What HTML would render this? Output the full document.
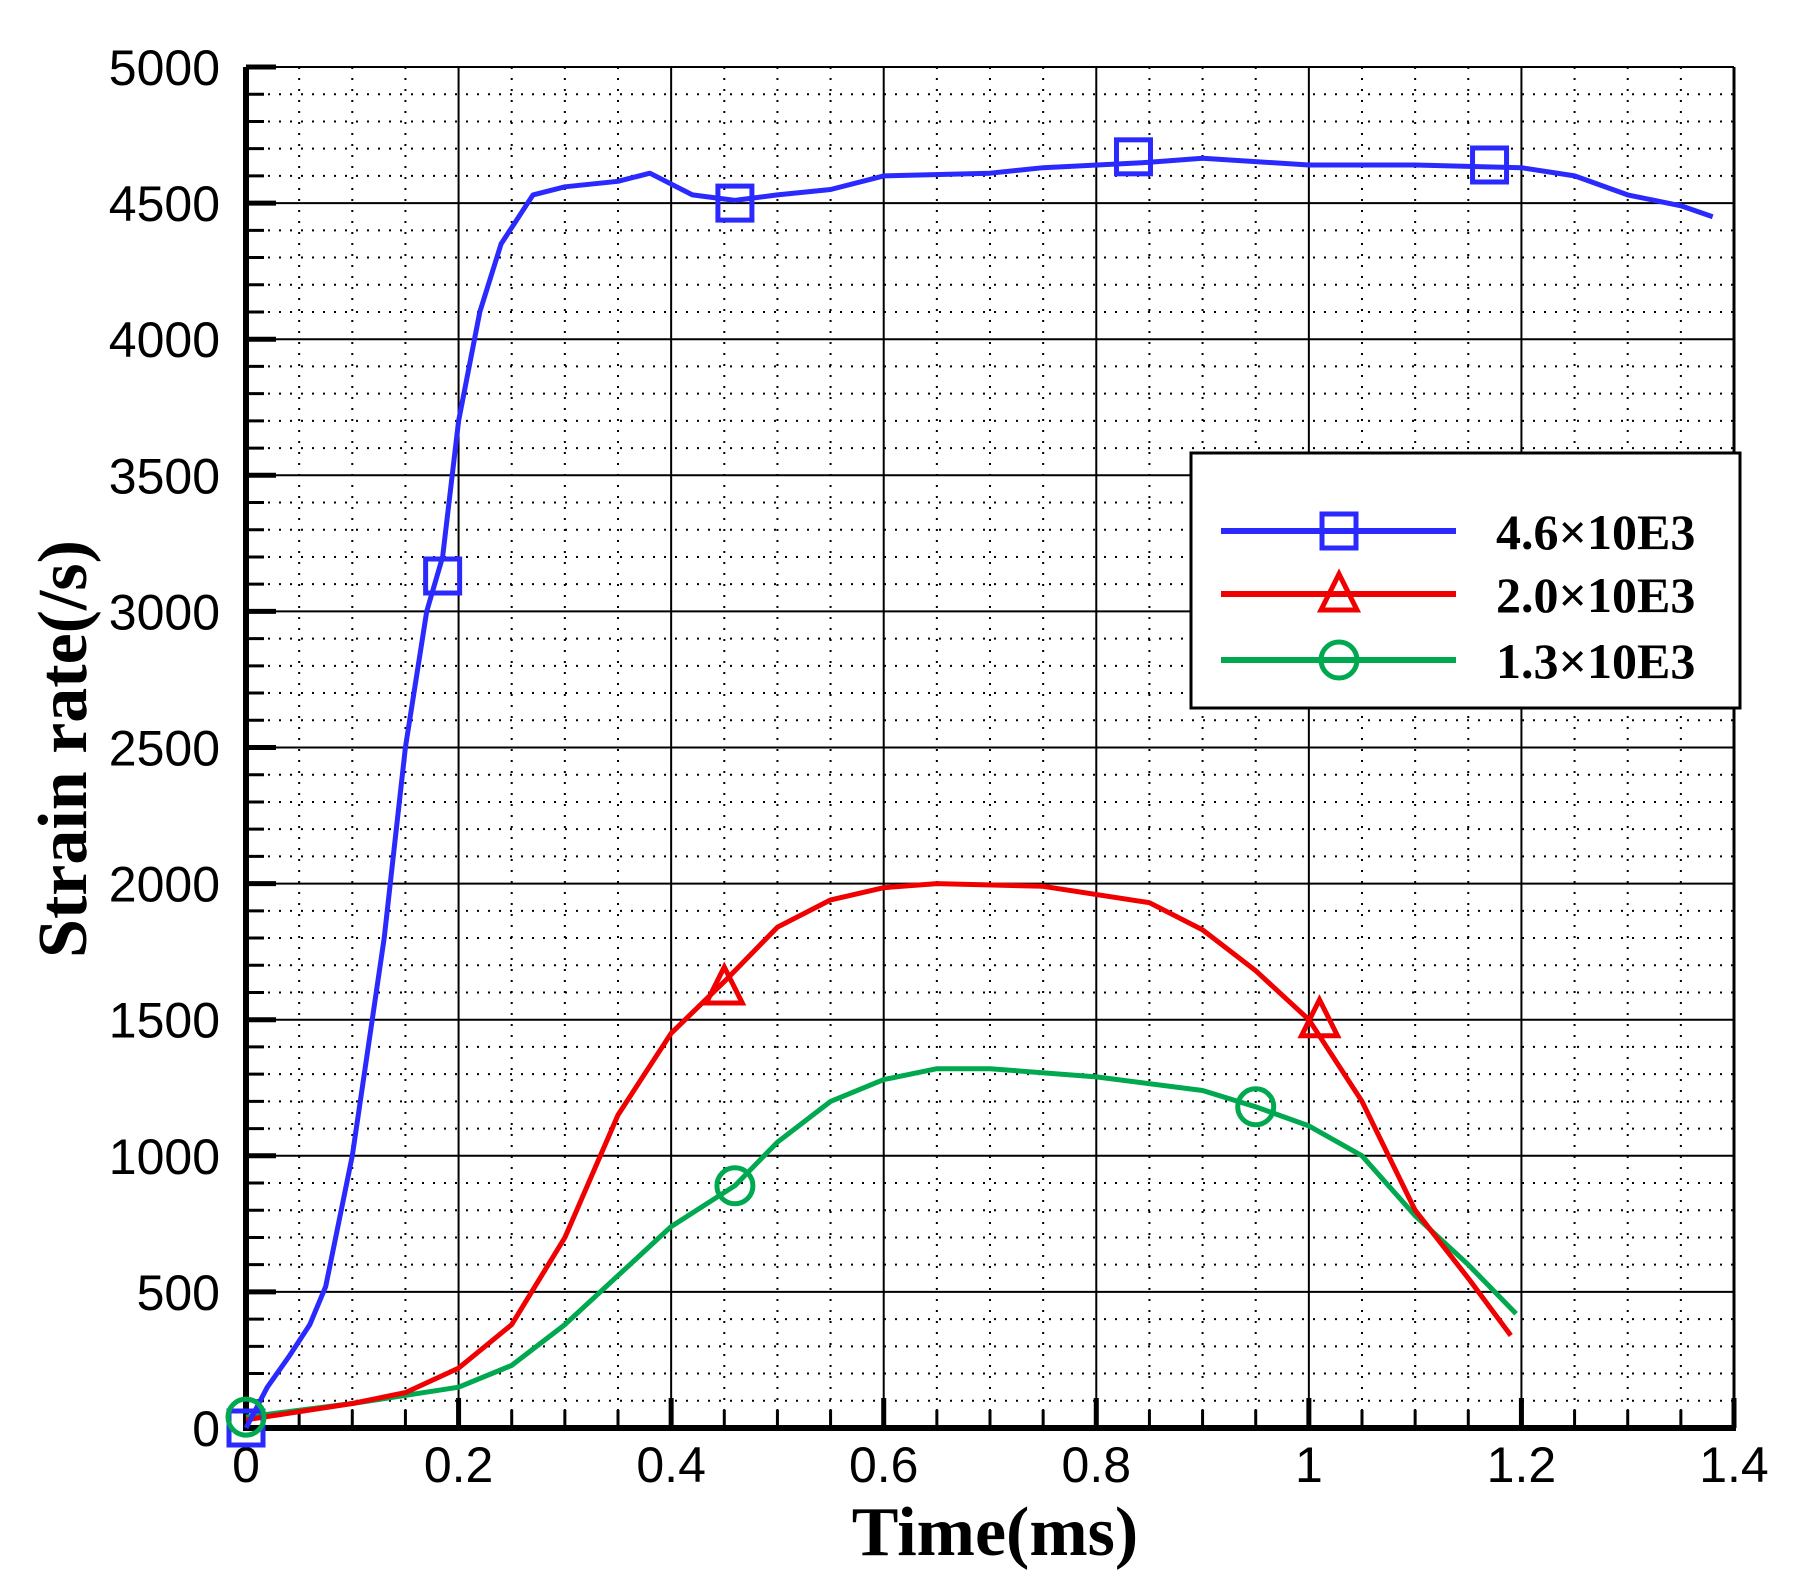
<!DOCTYPE html>
<html><head><meta charset="utf-8"><style>
html,body{margin:0;padding:0;background:#fff;}
svg{display:block}
</style></head><body>
<svg id="s" width="1800" height="1588" xmlns="http://www.w3.org/2000/svg"></svg>
<script>
const L=246,R=1734,T=67,B=1428;
const X=t=>L+t/1.4*(R-L), Y=v=>B-v/5000*(B-T);
let h='';
for(let i=1;i<28;i++){if(i%4==0)continue;const x=X(i*0.05);h+=`<line x1="${x}" y1="${T}" x2="${x}" y2="${B}" stroke="#000" stroke-width="2" stroke-dasharray="2,9"/>`;}
for(let i=1;i<50;i++){if(i%5==0)continue;const y=Y(i*100);h+=`<line x1="${L}" y1="${y}" x2="${R}" y2="${y}" stroke="#000" stroke-width="2" stroke-dasharray="2,9"/>`;}
for(let i=1;i<7;i++){const x=X(i*0.2);h+=`<line x1="${x}" y1="${T}" x2="${x}" y2="${B}" stroke="#000" stroke-width="2"/>`;}
for(let i=1;i<10;i++){const y=Y(i*500);h+=`<line x1="${L}" y1="${y}" x2="${R}" y2="${y}" stroke="#000" stroke-width="2"/>`;}
h+=`<line x1="${L}" y1="${T}" x2="${R}" y2="${T}" stroke="#000" stroke-width="2"/>`;
h+=`<line x1="${R}" y1="${T}" x2="${R}" y2="${B}" stroke="#000" stroke-width="3"/>`;
h+=`<line x1="${L}" y1="${T}" x2="${L}" y2="${B+3}" stroke="#000" stroke-width="6"/>`;
h+=`<line x1="${L-3}" y1="${B}" x2="${R+2}" y2="${B}" stroke="#000" stroke-width="6"/>`;
for(let i=0;i<=50;i++){const y=Y(i*100);const maj=i%5==0;h+=`<line x1="${L}" y1="${y}" x2="${L+(maj?30:18)}" y2="${y}" stroke="#000" stroke-width="${maj?5:3}"/>`;}
for(let i=0;i<=28;i++){const x=X(i*0.05);const maj=i%4==0;h+=`<line x1="${x}" y1="${B}" x2="${x}" y2="${B-(maj?30:18)}" stroke="#000" stroke-width="${maj?5:3}"/>`;}
for(let i=0;i<=10;i++){h+=`<text x="220" y="${Y(i*500)+18}" text-anchor="end" font-family="Liberation Sans, sans-serif" font-size="50">${i*500}</text>`;}
const xl=['0','0.2','0.4','0.6','0.8','1','1.2','1.4'];
xl.forEach((s,i)=>{h+=`<text x="${X(i*0.2)}" y="1482" text-anchor="middle" font-family="Liberation Sans, sans-serif" font-size="50">${s}</text>`;});
h+=`<text x="995" y="1555" text-anchor="middle" font-family="Liberation Serif, serif" font-weight="bold" font-size="70">Time(ms)</text>`;
h+=`<text transform="translate(86,749) rotate(-90)" text-anchor="middle" font-family="Liberation Serif, serif" font-weight="bold" font-size="70">Strain rate(/s)</text>`;
const blue=[[0,0],[0.02,150],[0.04,260],[0.06,380],[0.075,520],[0.1,1000],[0.13,1800],[0.15,2500],[0.17,3000],[0.185,3200],[0.2,3700],[0.22,4100],[0.24,4350],[0.27,4530],[0.3,4560],[0.35,4580],[0.38,4610],[0.42,4530],[0.46,4510],[0.5,4530],[0.55,4550],[0.6,4600],[0.7,4610],[0.75,4630],[0.85,4650],[0.9,4665],[1.0,4640],[1.1,4640],[1.2,4630],[1.25,4600],[1.3,4530],[1.35,4490],[1.38,4450]];
const red=[[0,30],[0.1,90],[0.15,130],[0.2,220],[0.25,380],[0.3,700],[0.35,1150],[0.4,1450],[0.45,1640],[0.5,1840],[0.55,1940],[0.6,1985],[0.65,2000],[0.75,1990],[0.85,1930],[0.9,1830],[0.95,1680],[1.0,1500],[1.05,1200],[1.1,800],[1.15,550],[1.19,340]];
const green=[[0,40],[0.1,90],[0.2,150],[0.25,230],[0.3,380],[0.35,560],[0.4,740],[0.46,890],[0.5,1050],[0.55,1200],[0.6,1280],[0.65,1320],[0.7,1320],[0.8,1290],[0.9,1240],[0.95,1180],[1.0,1110],[1.05,1000],[1.1,780],[1.15,600],[1.195,420]];
function path(d,c){return `<polyline fill="none" stroke="${c}" stroke-width="5" stroke-linejoin="round" points="${d.map(p=>X(p[0]).toFixed(1)+','+Y(p[1]).toFixed(1)).join(' ')}"/>`;}
h+=path(green,'#00a84f')+path(red,'#f00000')+path(blue,'#2a2aff');
const sq=(x,y,c)=>`<rect x="${x-17}" y="${y-17}" width="34" height="34" fill="none" stroke="${c}" stroke-width="5"/>`;
const tri=(x,y,c)=>`<polygon points="${x},${y-20} ${x-18},${y+16} ${x+18},${y+16}" fill="none" stroke="${c}" stroke-width="5"/>`;
const ci=(x,y,c)=>`<circle cx="${x}" cy="${y}" r="18" fill="none" stroke="${c}" stroke-width="5"/>`;
[[0.46,890],[0.95,1180]].forEach(p=>h+=ci(X(p[0]),Y(p[1]),'#00a84f'));
[[0.45,1620],[1.01,1500]].forEach(p=>h+=tri(X(p[0]),Y(p[1]),'#f00000'));
[[0,0],[0.185,3130],[0.46,4500],[0.835,4670],[1.17,4640]].forEach(p=>h+=sq(X(p[0]),Y(p[1]),'#2a2aff'));
h+=ci(X(0),Y(40),'#00a84f');
h+=`<rect x="1191" y="453" width="549" height="255" fill="#fff" stroke="#000" stroke-width="3"/>`;
const lg=[['#2a2aff',531,'4.6×10E3',sq],['#f00000',594,'2.0×10E3',tri],['#00a84f',660,'1.3×10E3',ci]];
lg.forEach(([c,y,t,f])=>{h+=`<line x1="1221" y1="${y}" x2="1456" y2="${y}" stroke="${c}" stroke-width="6"/>`;h+=f(1339,y,c);h+=`<text x="1496" y="${y+18}" font-family="Liberation Serif, serif" font-weight="bold" font-size="50">${t}</text>`;});
document.getElementById('s').innerHTML=h;
</script>
</body></html>
